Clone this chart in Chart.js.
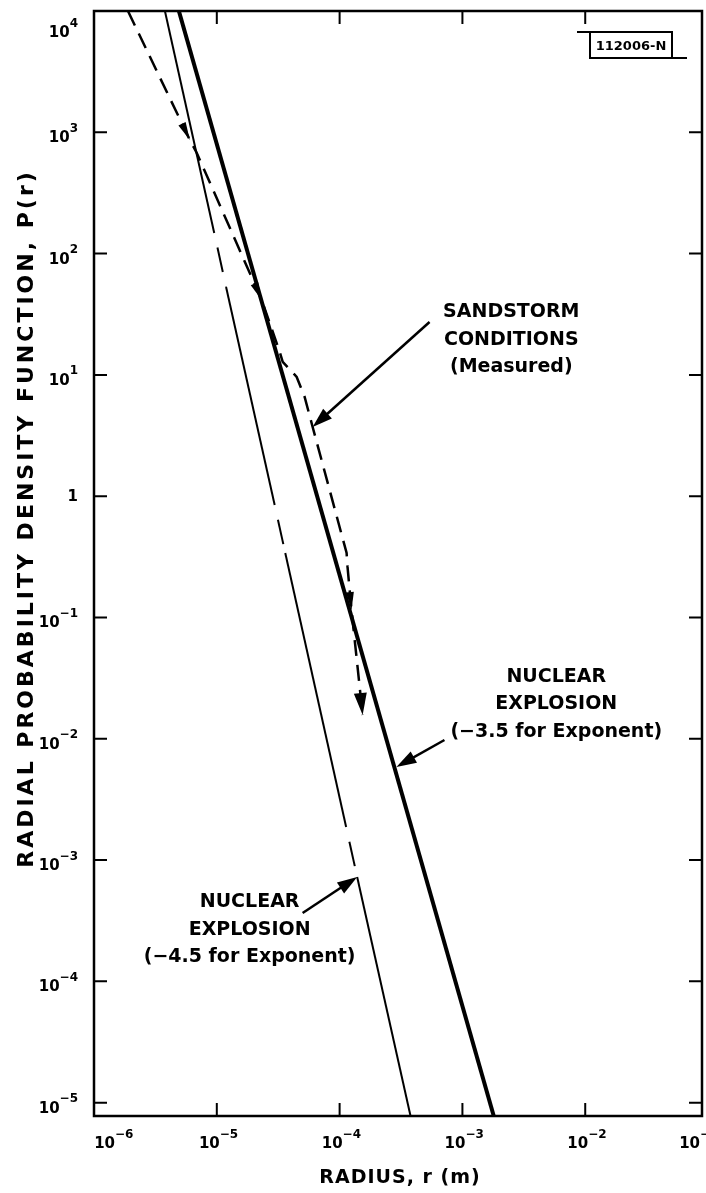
<!DOCTYPE html>
<html>
<head>
<meta charset="utf-8">
<script src="https://cdn.jsdelivr.net/npm/chart.js@4.4.1/dist/chart.umd.min.js"></script>
<style>
  html, body { margin: 0; padding: 0; background: #fff; }
  #wrap { width: 706px; height: 1193px; }
</style>
</head>
<body>
<div id="wrap"><canvas id="chart"></canvas></div>
<script>
// axis ranges: radius r (m) and P(r)
const xMin = 1e-6, xMax = 0.0893;
const yMin = 7.76e-6, yMax = 1e4;
const xTickExps = [-6, -5, -4, -3, -2, -1];
const yTickExps = [4, 3, 2, 1, 0, -1, -2, -3, -4, -5];

// nuclear explosion, -3.5 exponent (heavy line)
const nuc35R = [4.91e-6, 1.80e-3];
const nuc35P = [1e4, 7.76e-6];

// nuclear explosion, -4.5 exponent (light line, broken in three places)
const nuc45R = [3.78e-6, 9.53e-6, 1.19e-5, 2.96e-5, 3.61e-5, 1.13e-4, 1.39e-4, 3.78e-4];
const nuc45P = [1e4, 148, 53.1, 0.845, 0.340, 1.87e-3, 7.26e-4, 7.76e-6];
const nuc45Gaps = [1, 3, 5];

// sandstorm conditions, measured (dashed)
const sandR = [1.89e-6, 6.03e-6, 6.87e-6, 2.32e-5, 3.25e-5, 3.44e-5, 4.47e-5, 5.19e-5, 6.03e-5, 1.14e-4, 1.16e-4, 1.25e-4, 1.54e-4];
const sandP = [1e4, 865, 675, 41.4, 15.5, 12.8, 9.62, 6.58, 3.72, 0.340, 0.261, 0.115, 0.0157];
const sandArrows = [1, 3, 11, 12];

// call-outs: text anchor and arrow (tail -> tip), in data units
const notes = [
  { text: ['SANDSTORM', 'CONDITIONS', '(Measured)'], r: 2.50e-3, p: 30.0, r0: 5.40e-4, p0: 27.3, r1: 6.03e-5, p1: 3.72 },
  { text: ['NUCLEAR', 'EXPLOSION', '(\u22123.5 for Exponent)'], r: 5.81e-3, p: 2.94e-2, r0: 7.14e-4, p0: 9.77e-3, r1: 2.90e-4, p1: 5.85e-3 },
  { text: ['NUCLEAR', 'EXPLOSION', '(\u22124.5 for Exponent)'], r: 1.85e-5, p: 4.10e-4, r0: 5.00e-5, p0: 3.66e-4, r1: 1.39e-4, p1: 7.26e-4 }
];

const FONT = '"DejaVu Sans", sans-serif';
const toPts = (xs, ys) => xs.map((v, i) => ({ x: v, y: ys[i] }));

function arrowHead(ctx, x, y, ang, len, half) {
  ctx.beginPath();
  ctx.moveTo(x, y);
  ctx.lineTo(x - len * Math.cos(ang) + half * Math.sin(ang), y - len * Math.sin(ang) - half * Math.cos(ang));
  ctx.lineTo(x - len * Math.cos(ang) - half * Math.sin(ang), y - len * Math.sin(ang) + half * Math.cos(ang));
  ctx.closePath();
  ctx.fill();
}

function drawPow(ctx, exp, x, base, align) {
  ctx.font = 'bold 15px ' + FONT;
  if (exp === 0) {
    ctx.textAlign = 'right';
    ctx.fillText('1', x, base);
    return;
  }
  const sup = exp < 0 ? '\u2212' + (-exp) : String(exp);
  const w10 = ctx.measureText('10').width;
  ctx.font = 'bold 12px ' + FONT;
  const wSup = ctx.measureText(sup).width;
  let start = align === 'right' ? x - w10 - wSup : x - w10;
  ctx.textAlign = 'left';
  ctx.font = 'bold 15px ' + FONT;
  ctx.fillText('10', start, base);
  ctx.font = 'bold 12px ' + FONT;
  ctx.fillText(sup, start + w10, base - 10.5);
}

const decor = {
  id: 'decor',
  afterDatasetsDraw(chart) {
    const { ctx, chartArea: a, scales: { x, y } } = chart;
    ctx.save();
    ctx.strokeStyle = '#000';
    ctx.fillStyle = '#000';
    ctx.textBaseline = 'alphabetic';

    // frame
    ctx.lineWidth = 2.5;
    ctx.strokeRect(a.left, a.top, a.right - a.left, a.bottom - a.top);

    // inward decade ticks on all four sides
    ctx.lineWidth = 2;
    const tl = 13;
    ctx.beginPath();
    xTickExps.forEach(e => {
      const px = x.getPixelForValue(Math.pow(10, e));
      if (px <= a.left + 1 || px >= a.right - 1) return;
      ctx.moveTo(px, a.bottom); ctx.lineTo(px, a.bottom - tl);
      ctx.moveTo(px, a.top); ctx.lineTo(px, a.top + tl);
    });
    yTickExps.forEach(e => {
      const py = y.getPixelForValue(Math.pow(10, e));
      if (py <= a.top + 1 || py >= a.bottom - 1) return;
      ctx.moveTo(a.left, py); ctx.lineTo(a.left + tl, py);
      ctx.moveTo(a.right, py); ctx.lineTo(a.right - tl, py);
    });
    ctx.stroke();

    // tick labels
    xTickExps.forEach(e => {
      const px = x.getPixelForValue(Math.pow(10, e));
      drawPow(ctx, e, Math.min(Math.max(px + 3, a.left + 21), a.right - 2), a.bottom + 32, 'left');
    });
    yTickExps.forEach(e => {
      const py = y.getPixelForValue(Math.pow(10, e));
      drawPow(ctx, e, a.left - 16, Math.max(py + (e === 0 ? 5 : 10), a.top + 26), 'right');
    });

    // axis titles
    ctx.font = 'bold 19px ' + FONT;
    ctx.textAlign = 'center';
    ctx.letterSpacing = '1px';
    ctx.fillText('RADIUS, r (m)', (a.left + a.right) / 2 + 2, a.bottom + 67);
    ctx.save();
    ctx.translate(33, (a.top + a.bottom) / 2 - 45);
    ctx.rotate(-Math.PI / 2);
    ctx.font = 'bold 22px ' + FONT;
    ctx.letterSpacing = '3px';
    ctx.fillText('RADIAL PROBABILITY DENSITY FUNCTION, P(r)', 0, 0);
    ctx.restore();
    ctx.letterSpacing = '0px';

    // arrowheads along the measured curve
    const sm = chart.getDatasetMeta(2).data;
    sandArrows.forEach(i => {
      const p = sm[i], q = sm[i - 1];
      arrowHead(ctx, p.x, p.y, Math.atan2(p.y - q.y, p.x - q.x), i === 12 ? 22 : 18, i === 12 ? 6.5 : 4);
    });

    // call-outs
    notes.forEach(n => {
      const tx = x.getPixelForValue(n.r), ty = y.getPixelForValue(n.p);
      ctx.font = 'bold 19px ' + FONT;
      ctx.textAlign = 'center';
      n.text.forEach((t, i) => ctx.fillText(t, tx, ty + i * 27.5));
      const x0 = x.getPixelForValue(n.r0), y0 = y.getPixelForValue(n.p0);
      const x1 = x.getPixelForValue(n.r1), y1 = y.getPixelForValue(n.p1);
      const ang = Math.atan2(y1 - y0, x1 - x0);
      ctx.lineWidth = 2.5;
      ctx.beginPath();
      ctx.moveTo(x0, y0);
      ctx.lineTo(x1 - 12 * Math.cos(ang), y1 - 12 * Math.sin(ang));
      ctx.stroke();
      arrowHead(ctx, x1, y1, ang, 20, 6.5);
    });

    // drawing number box
    ctx.lineWidth = 2;
    const bx = a.right - 112, by = a.top + 21, bw = 82, bh = 26;
    ctx.strokeRect(bx, by, bw, bh);
    ctx.beginPath();
    ctx.moveTo(bx - 13, by); ctx.lineTo(bx, by);
    ctx.moveTo(bx + bw, by + bh); ctx.lineTo(bx + bw + 15, by + bh);
    ctx.stroke();
    ctx.font = 'bold 13px ' + FONT;
    ctx.textAlign = 'center';
    ctx.fillText('112006-N', bx + bw / 2, by + 18);
    ctx.restore();
  }
};

new Chart(document.getElementById('chart'), {
  type: 'scatter',
  data: {
    datasets: [
      {
        label: 'Nuclear explosion (-3.5 for exponent)',
        data: toPts(nuc35R, nuc35P),
        showLine: true,
        borderColor: '#000',
        borderWidth: 4,
        pointRadius: 0
      },
      {
        label: 'Nuclear explosion (-4.5 for exponent)',
        data: toPts(nuc45R, nuc45P),
        showLine: true,
        borderColor: '#000',
        borderWidth: 2,
        pointRadius: 0,
        segment: {
          borderDash: c => nuc45Gaps.includes(c.p0DataIndex) ? [25, 15] : undefined,
          borderDashOffset: c => nuc45Gaps.includes(c.p0DataIndex) ? 25 : 0
        }
      },
      {
        label: 'Sandstorm conditions (measured)',
        data: toPts(sandR, sandP),
        showLine: true,
        borderColor: '#000',
        borderWidth: 2.5,
        borderDash: [16, 9],
        pointRadius: 0
      }
    ]
  },
  options: {
    responsive: true,
    maintainAspectRatio: false,
    animation: false,
    layout: { padding: { left: 94, right: 4, top: 11, bottom: 77 } },
    plugins: { legend: { display: false }, tooltip: { enabled: false } },
    scales: {
      x: { type: 'logarithmic', min: xMin, max: xMax, display: false },
      y: { type: 'logarithmic', min: yMin, max: yMax, display: false }
    }
  },
  plugins: [decor]
});
</script>
</body>
</html>
